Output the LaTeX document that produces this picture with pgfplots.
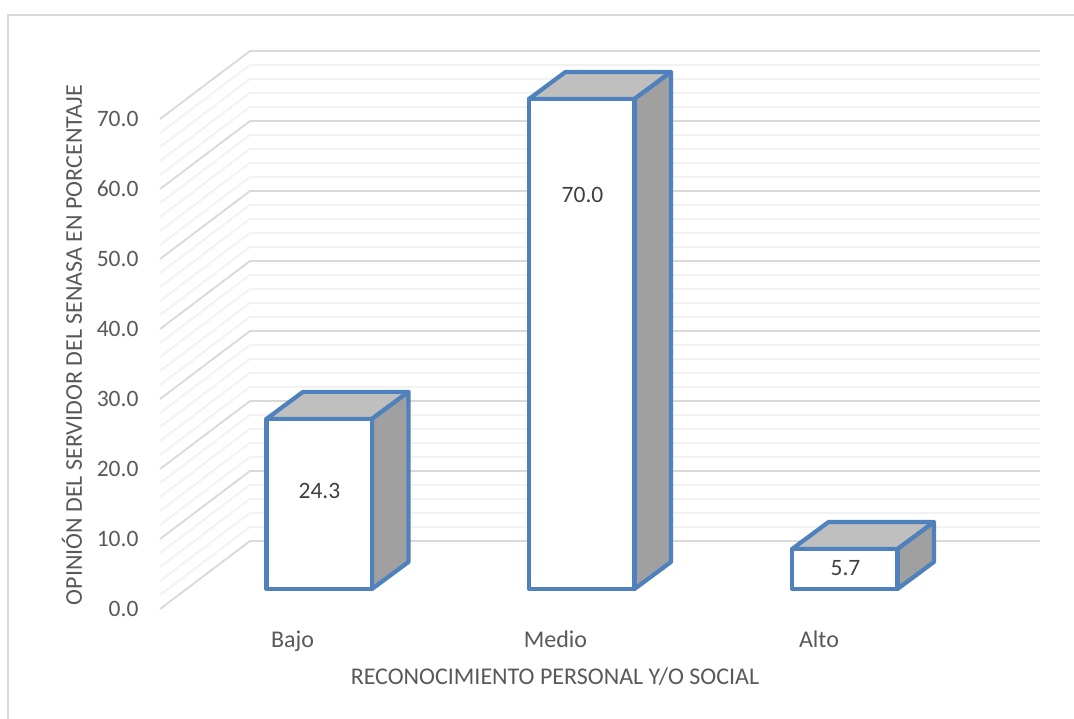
\documentclass[border=0pt]{standalone}
\usepackage{pgfplots}
\usepackage{pgfplotstable}
\usepackage{fontspec}
\setmainfont{Carlito}
\pgfplotsset{compat=1.18}

\definecolor{gridmajor}{HTML}{D9D9D9}
\definecolor{gridminor}{HTML}{F2F2F2}
\definecolor{baredge}{HTML}{4F81BD}
\definecolor{bartop}{HTML}{BFBFBF}
\definecolor{barside}{HTML}{A0A0A0}
\definecolor{txt}{HTML}{595959}
\definecolor{lbl}{HTML}{404040}

% Unit outlines of the three visible box faces:
% u = across the bar, t = along its height, d = into the depth
\pgfplotstableread{
u t d
0 0 0
1 0 0
1 1 0
0 1 0
0 0 0
}\frontface
\pgfplotstableread{
u t d
0 1 0
1 1 0
1 1 1
0 1 1
0 1 0
}\topface
\pgfplotstableread{
u t d
1 0 0
1 0 1
1 1 1
1 1 0
1 0 0
}\sideface
% Floor and wall outline of one gridline
\pgfplotstableread{
x d
160 0
250 1
1040 1
}\gridpath

\newcommand{\boxface}[4]{%
  \addplot[draw=baredge, line width=4.2pt, line join=round, fill=#1, forget plot]
    table[x expr={#3+\thisrow{u}*105.5+\thisrow{d}*36.5},
          y expr={2.86+\thisrow{t}*#4+\thisrow{d}*3.86}] {#2} -- cycle;%
}
\newcommand{\drawbox}[2]{%
  \boxface{bartop}{\topface}{#1}{#2}
  \boxface{barside}{\sideface}{#1}{#2}
  \boxface{white}{\frontface}{#1}{#2}
}

\begin{document}
\begin{tikzpicture}[x=1pt,y=1pt]
\path[use as bounding box] (0,0) rectangle (1074,719);
\fill[white] (0,0) rectangle (1074,719);
\draw[gridmajor, line width=1.6pt] (8,0) -- (8,704) -- (1074,704);
\begin{axis}[
  anchor=south west, at={(160pt,110pt)},
  scale only axis, width=880pt, height=490pt,
  xmin=160, xmax=1040, ymin=0, ymax=70,
  clip=false,
  axis line style={draw=none},
  major tick style={draw=none},
  axis x line*=bottom, axis y line*=left,
  ytick={0,10,...,70},
  yticklabels={0.0,10.0,20.0,30.0,40.0,50.0,60.0,70.0},
  xtick={292.5,555.5,819},
  xticklabels={Bajo,Medio,Alto},
  tick label style={text=txt},
  y tick label style={xshift=-18pt, font=\fontsize{23.5}{27}\selectfont},
  x tick label style={anchor=north, text height=15pt, text depth=5pt, yshift=-20pt,
    font=\fontsize{24}{28}\selectfont},
  /pgf/number format/assume math mode=true,
  xlabel={RECONOCIMIENTO PERSONAL Y/O SOCIAL},
  ylabel={OPINIÓN DEL SERVIDOR DEL SENASA EN PORCENTAJE},
  every axis x label/.style={at={(axis cs:555,-9.7)}, anchor=center,
    text=txt, font=\fontsize{24}{28}\selectfont},
  every axis y label/.style={at={(axis cs:72,37.7)}, anchor=center, rotate=90,
    text=txt, font=\fontsize{24}{28}\selectfont},
]
% Light gridlines every 2 units, stronger ones every 10
\pgfplotsinvokeforeach{2,4,6,8,12,14,16,18,22,24,26,28,32,34,36,38,42,44,46,48,52,54,56,58,62,64,66,68}{
  \addplot[gridminor, line width=1.8pt, forget plot]
    table[x=x, y expr={#1+\thisrow{d}*9.71}] {\gridpath};
}
\pgfplotsinvokeforeach{0,10,20,30,40,50,60,70}{
  \addplot[gridmajor, line width=1.8pt, forget plot]
    table[x=x, y expr={#1+\thisrow{d}*9.71}] {\gridpath};
}
% Boxes: left edge and value
\drawbox{266.5}{24.3}
\drawbox{529}{70.0}
\drawbox{792}{5.7}
% Value labels
\node[text=lbl, font=\fontsize{23.5}{27}\selectfont] at (axis cs:319.5,16.9) {24.3};
\node[text=lbl, font=\fontsize{23.5}{27}\selectfont] at (axis cs:582.5,59.1) {70.0};
\node[text=lbl, font=\fontsize{23.5}{27}\selectfont] at (axis cs:845.5,5.8) {5.7};
\end{axis}
\end{tikzpicture}
\end{document}
